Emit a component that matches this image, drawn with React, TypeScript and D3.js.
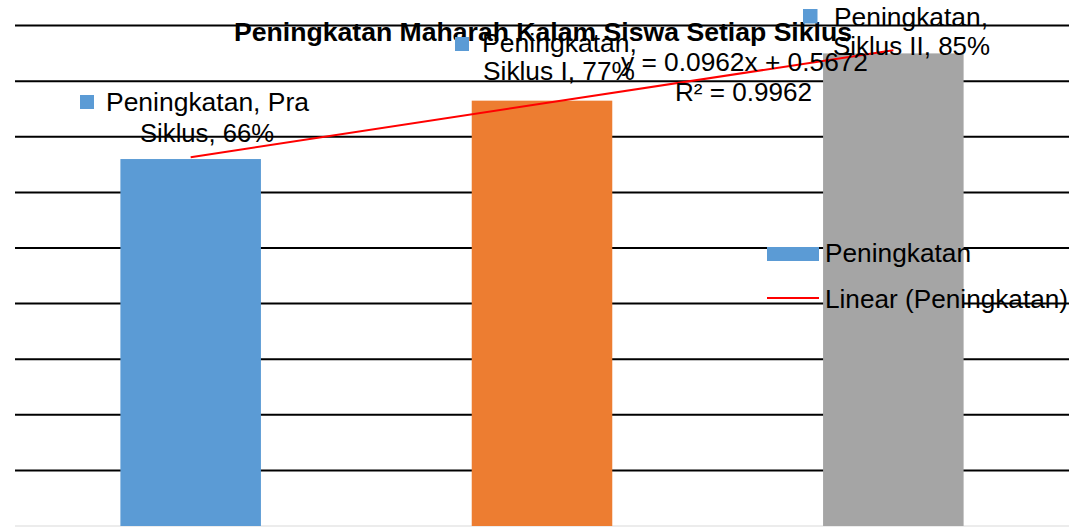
import React from 'react';
import * as d3 from 'd3';

// chart data
const categories = ['Pra Siklus', 'Siklus I', 'Siklus II'];
const seriesName = 'Peningkatan';
const values = [0.66, 0.765, 0.85];
const barColors = ['#5B9BD5', '#ED7D31', '#A5A5A5'];
const labelLines = [
  ['Peningkatan, Pra', 'Siklus, 66%'],
  ['Peningkatan,', 'Siklus I, 77%'],
  ['Peningkatan,', 'Siklus II, 85%'],
];
const trendSlope = 0.0962;
const trendIntercept = 0.5672;
const trendLines = ['y = 0.0962x + 0.5672', 'R² = 0.9962'];
const title = 'Peningkatan Maharah Kalam Siswa Setiap Siklus';
const legendItems = [seriesName, `Linear (${seriesName})`];

// layout of the free-floating labels (as placed in the original)
const labelLayout = [
  { mx: 80, my: 95, ms: 14, l1: [106, 111, 203], l2: [140, 142, 134] },
  { mx: 455, my: 37, ms: 14, l1: [482, 52, 155], l2: [483, 80, 152] },
  { mx: 803, my: 9, ms: 14.5, l1: [834, 26, 154], l2: [833, 55, 157] },
];
const eqLayout = [
  [621, 71, 247],
  [675, 101, 137],
];

const W = 1071;
const H = 527;
const FONT = "'Liberation Sans', Arial, sans-serif";

export default function App() {
  const x = d3
    .scaleBand<string>()
    .domain(categories)
    .range([15, 1069])
    .paddingInner(0.6)
    .paddingOuter(0.3);
  const y = d3.scaleLinear().domain([0, 1]).range([526, -30]);

  const grid = y.ticks(10).filter((t) => t > 0.001 && t < 0.999);

  const trend = d3
    .line<number>()
    .x((i) => x(categories[i])! + x.bandwidth() / 2)
    .y((i) => y(trendSlope * (i + 1) + trendIntercept));

  return (
    <svg
      width={W}
      height={H}
      style={{ position: 'absolute', left: 0, top: 0, background: '#fff' }}
      fontFamily={FONT}
    >
      <rect width={W} height={H} fill="#fff" />
      {/* gridlines */}
      {grid.map((t) => (
        <line key={t} x1={15} x2={1069} y1={y(t)} y2={y(t)} stroke="#000" strokeWidth={2} />
      ))}
      <line x1={15} x2={1069} y1={y(0)} y2={y(0)} stroke="#D9D9D9" strokeWidth={1} />

      {/* bars */}
      {values.map((v, i) => (
        <rect
          key={categories[i]}
          x={x(categories[i])}
          y={y(v)}
          width={x.bandwidth()}
          height={y(0) - y(v)}
          fill={barColors[i]}
        />
      ))}

      {/* linear trendline */}
      <path d={trend([0, categories.length - 1]) ?? ''} fill="none" stroke="#FF0000" strokeWidth={2} />

      {/* title */}
      <text
        x={234}
        y={41}
        fontSize={25}
        fontWeight="bold"
        textLength={618}
        lengthAdjust="spacingAndGlyphs"
        fill="#000"
      >
        {title}
      </text>

      {/* data labels */}
      {labelLines.map((lines, i) => {
        const L = labelLayout[i];
        return (
          <g key={i}>
            <rect x={L.mx} y={L.my} width={L.ms} height={L.ms} fill={barColors[0]} />
            <text x={L.l1[0]} y={L.l1[1]} fontSize={25.5} textLength={L.l1[2]} lengthAdjust="spacingAndGlyphs">
              {lines[0]}
            </text>
            <text x={L.l2[0]} y={L.l2[1]} fontSize={25.5} textLength={L.l2[2]} lengthAdjust="spacingAndGlyphs">
              {lines[1]}
            </text>
          </g>
        );
      })}

      {/* trendline equation */}
      {trendLines.map((s, i) => (
        <text
          key={s}
          x={eqLayout[i][0]}
          y={eqLayout[i][1]}
          fontSize={25.5}
          textLength={eqLayout[i][2]}
          lengthAdjust="spacingAndGlyphs"
        >
          {s}
        </text>
      ))}

      {/* legend */}
      <rect x={767} y={247} width={52} height={14} fill={barColors[0]} />
      <text x={825} y={262} fontSize={25.5} textLength={146} lengthAdjust="spacingAndGlyphs">
        {legendItems[0]}
      </text>
      <line x1={767} x2={819} y1={298} y2={298} stroke="#FF0000" strokeWidth={2} />
      <text x={825} y={308} fontSize={25.5} textLength={243} lengthAdjust="spacingAndGlyphs">
        {legendItems[1]}
      </text>
    </svg>
  );
}
